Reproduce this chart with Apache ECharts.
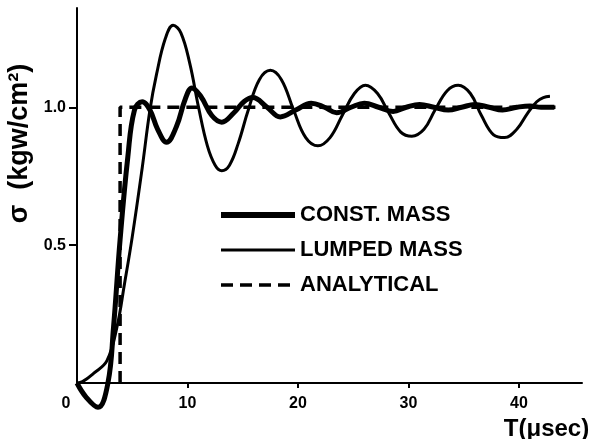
<!DOCTYPE html>
<html>
<head>
<meta charset="utf-8">
<script src="https://cdn.jsdelivr.net/npm/echarts@6/dist/echarts.min.js"></script>
<style>
  html, body { margin: 0; padding: 0; background: #fff; }
  #chart { width: 591px; height: 439px; }
</style>
</head>
<body>
<div id="chart"></div>
<script>
// 时间轴 (μsec)
const tConst = [0, 0.8, 1.9, 2.8, 3.3, 3.9, 4.6, 5.2, 5.9, 6.6, 7.3, 8.1, 9.0, 9.8, 10.4, 11.2, 12.2, 13.1, 14.2, 15.1, 15.9, 17.2, 18.4, 19.8, 21.2, 22.4, 23.5, 24.8, 26.0, 27.3, 28.6, 29.8, 31.0, 32.3, 33.6, 34.8, 36.0, 37.3, 38.5, 39.8, 41.0, 42.0, 43.2];
const sConst = [0, -0.05, -0.088, 0, 0.2, 0.52, 0.82, 0.99, 1.02, 0.99, 0.92, 0.873, 0.93, 1.03, 1.07, 1.04, 0.97, 0.946, 0.98, 1.02, 1.035, 1.0, 0.965, 0.99, 1.015, 1.0, 0.98, 1.0, 1.015, 1.0, 0.985, 1.0, 1.01, 1.0, 0.99, 1.0, 1.01, 1.0, 0.99, 1.0, 1.005, 1.0, 1.0];

const tLump = [0, 0.5, 1.5, 2.7, 3.6, 4.3, 5.0, 5.9, 6.6, 7.2, 8.0, 8.7, 9.4, 10.2, 11.0, 11.8, 12.5, 13.1, 13.8, 14.6, 15.5, 16.5, 17.5, 18.5, 19.6, 20.7, 21.8, 22.9, 24.0, 25.1, 26.1, 27.2, 28.2, 29.3, 30.3, 31.4, 32.4, 33.5, 34.5, 35.6, 36.6, 37.7, 38.7, 39.8, 40.8, 41.6, 42.2, 42.8];
const sLump = [0, 0.005, 0.035, 0.08, 0.2, 0.36, 0.53, 0.78, 0.99, 1.12, 1.25, 1.297, 1.27, 1.16, 1.0, 0.86, 0.79, 0.77, 0.79, 0.87, 0.99, 1.1, 1.134, 1.1, 0.99, 0.89, 0.86, 0.89, 0.97, 1.05, 1.08, 1.05, 0.98, 0.91, 0.895, 0.92, 0.99, 1.06, 1.08, 1.05, 0.97, 0.9, 0.89, 0.92, 0.98, 1.02, 1.035, 1.04];

const tAnal = [3.9, 3.9, 43.3];
const sAnal = [0, 1.0, 1.0];

// 刻度
const xTicks = [0, 10, 20, 30, 40];
const yTicks = [0.5, 1.0];
const yTickLabels = ['0.5', '1.0'];

const seriesNames = ['CONST. MASS', 'LUMPED MASS', 'ANALYTICAL'];

const pairs = (t, s) => t.map((v, i) => [v, s[i]]);
const font = 'Liberation Sans';
const hideSymbol = { opacity: 0 };

const chart = echarts.init(document.getElementById('chart'));
chart.setOption({
  backgroundColor: '#fff',
  animation: false,
  grid: { left: 77, right: 9, top: 8, bottom: 56, outerBoundsMode: 'none', containLabel: false },
  legend: {
    data: [
      { name: seriesNames[0], itemStyle: hideSymbol, lineStyle: { width: 6, color: '#000' } },
      { name: seriesNames[1], itemStyle: hideSymbol, lineStyle: { width: 3, color: '#000' } },
      { name: seriesNames[2], itemStyle: hideSymbol, lineStyle: { width: 3.5, color: '#000', type: [12, 7] } }
    ],
    orient: 'vertical',
    left: 213,
    top: 199,
    itemWidth: 74,
    itemHeight: 16,
    itemGap: 13,
    textStyle: { color: '#000', fontFamily: font, fontWeight: 'bold', fontSize: 22 }
  },
  xAxis: {
    type: 'value',
    min: 0,
    max: 45.7,
    interval: 10,
    name: 'T(μsec)',
    nameLocation: 'middle',
    nameGap: 25,
    nameTextStyle: { color: '#000', fontFamily: font, fontWeight: 'bold', fontSize: 24, padding: [0, 0, 0, 434] },
    axisLine: { lineStyle: { color: '#000', width: 2 } },
    axisTick: { length: 5, lineStyle: { color: '#000', width: 2 }, customValues: xTicks.slice(1) },
    axisLabel: {
      customValues: xTicks,
      margin: 13,
      color: '#000', fontFamily: font, fontWeight: 'bold', fontSize: 16,
      formatter: v => v === 0 ? '{z|0}' : String(v),
      rich: { z: { fontFamily: font, fontWeight: 'bold', fontSize: 16, color: '#000', padding: [0, 22, 0, 0] } }
    },
    splitLine: { show: false }
  },
  yAxis: {
    type: 'value',
    min: 0,
    max: 1.36,
    name: 'σ  (kgw/cm²)',
    nameLocation: 'middle',
    nameGap: 30,
    nameRotate: 90,
    nameTextStyle: { color: '#000', fontFamily: font, fontWeight: 'bold', fontSize: 27, padding: [0, 0, 0, 104] },
    axisLine: { show: true, lineStyle: { color: '#000', width: 2 } },
    axisTick: { show: true, length: 8, lineStyle: { color: '#000', width: 2 }, customValues: yTicks },
    axisLabel: {
      customValues: yTicks,
      margin: 11,
      color: '#000', fontFamily: font, fontWeight: 'bold', fontSize: 16,
      formatter: v => yTickLabels[yTicks.indexOf(v)] || ''
    },
    splitLine: { show: false }
  },
  series: [
    {
      name: seriesNames[0],
      type: 'line',
      data: pairs(tConst, sConst),
      smooth: 0.4,
      symbol: 'none',
      clip: false,
      lineStyle: { color: '#000', width: 5 },
      itemStyle: { color: '#000' },
      z: 3
    },
    {
      name: seriesNames[1],
      type: 'line',
      data: pairs(tLump, sLump),
      smooth: 0.4,
      symbol: 'none',
      clip: false,
      lineStyle: { color: '#000', width: 3 },
      itemStyle: { color: '#000' },
      z: 2
    },
    {
      name: seriesNames[2],
      type: 'line',
      data: pairs(tAnal, sAnal),
      symbol: 'none',
      clip: false,
      lineStyle: { color: '#000', width: 3.5, type: [12, 7] },
      itemStyle: { color: '#000' },
      z: 1
    }
  ]
});
</script>
</body>
</html>
